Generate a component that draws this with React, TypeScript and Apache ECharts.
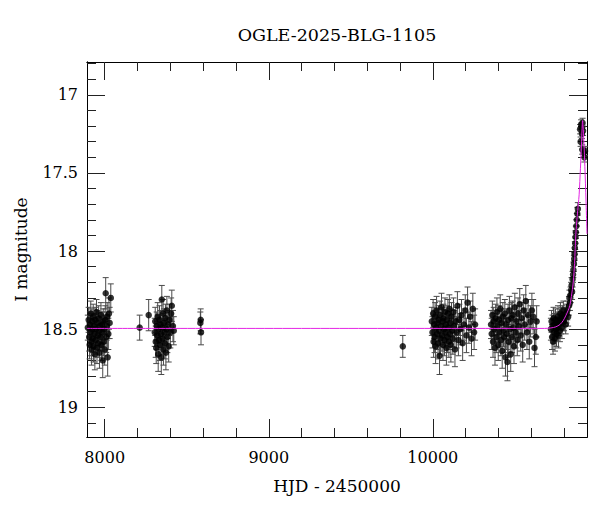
import React, { useEffect, useRef } from 'react';
import * as echarts from 'echarts';

// [HJD-2450000, I mag, error]
const season2017: number[][] = [
  [7897,18.49,0.08],[7902,18.44,0.08],[7905,18.55,0.09],[7908,18.60,0.09],[7910,18.47,0.08],[7913,18.52,0.09],[7915,18.40,0.08],[7918,18.58,0.09],[7920,18.63,0.10],[7922,18.45,0.08],[7925,18.50,0.09],[7927,18.56,0.09],[7930,18.42,0.08],[7932,18.61,0.10],[7935,18.48,0.08],[7937,18.53,0.09],[7940,18.66,0.10],[7942,18.44,0.08],[7945,18.57,0.09],[7948,18.50,0.09],[7950,18.39,0.08],[7953,18.62,0.10],[7955,18.46,0.08],[7958,18.54,0.09],[7960,18.59,0.09],[7963,18.43,0.08],[7966,18.51,0.09],[7968,18.65,0.10],[7971,18.48,0.09],[7974,18.55,0.09],[7977,18.41,0.08],[7980,18.60,0.10],[7983,18.47,0.08],[7986,18.52,0.09],[7988,18.70,0.11],[7991,18.45,0.08],[7994,18.58,0.09],[7997,18.50,0.09],[8000,18.63,0.10],[8003,18.44,0.09],[8006,18.27,0.10],[8009,18.55,0.10],[8012,18.48,0.09],[8015,18.42,0.09],[8018,18.68,0.12],[8022,18.53,0.10],[8026,18.40,0.10],[8030,18.46,0.10],[8037,18.30,0.09],
];
const season2018: number[][] = [
  [8213,18.49,0.08],[8268,18.41,0.10],
  [8305,18.52,0.09],[8308,18.45,0.09],[8311,18.58,0.10],[8314,18.62,0.10],[8317,18.48,0.09],[8320,18.54,0.09],[8323,18.42,0.09],[8326,18.66,0.11],[8329,18.50,0.09],[8331,18.57,0.10],[8334,18.44,0.09],[8337,18.60,0.10],[8340,18.47,0.09],[8342,18.53,0.09],[8345,18.68,0.11],[8348,18.31,0.09],[8350,18.49,0.09],[8353,18.56,0.10],[8356,18.40,0.09],[8358,18.63,0.10],[8361,18.46,0.09],[8364,18.52,0.09],[8367,18.59,0.10],[8370,18.43,0.09],[8373,18.65,0.11],[8376,18.50,0.09],[8379,18.38,0.09],[8382,18.55,0.10],[8386,18.47,0.09],[8390,18.61,0.10],[8395,18.44,0.10],[8400,18.52,0.10],[8405,18.40,0.10],[8409,18.35,0.10],[8416,18.48,0.10],[8421,18.51,0.09],
  [8583,18.46,0.07],[8585,18.44,0.07],[8587,18.52,0.08],
];
const season2022: number[][] = [
  [9817,18.61,0.07],
  [9994,18.45,0.09],[9998,18.52,0.10],[10002,18.40,0.09],[10005,18.58,0.10],[10008,18.47,0.09],[10011,18.55,0.10],[10014,18.42,0.09],[10017,18.61,0.11],[10020,18.49,0.09],[10023,18.38,0.09],[10026,18.53,0.10],[10029,18.46,0.09],[10032,18.59,0.10],[10035,18.44,0.09],[10038,18.51,0.10],[10041,18.67,0.12],[10044,18.41,0.09],[10047,18.56,0.10],[10050,18.48,0.09],[10053,18.36,0.09],[10056,18.54,0.10],[10059,18.45,0.09],[10062,18.60,0.10],[10065,18.43,0.09],[10068,18.50,0.10],[10071,18.57,0.10],[10074,18.39,0.09],[10077,18.52,0.10],[10080,18.47,0.09],[10083,18.62,0.11],[10086,18.44,0.09],[10089,18.55,0.10],[10092,18.40,0.09],[10095,18.49,0.10],[10098,18.58,0.10],[10101,18.37,0.09],[10104,18.53,0.10],[10107,18.46,0.09],[10110,18.60,0.11],[10114,18.42,0.09],[10118,18.51,0.10],[10122,18.56,0.10],[10126,18.39,0.09],[10130,18.48,0.10],[10135,18.63,0.11],[10140,18.45,0.09],[10145,18.52,0.10],[10150,18.35,0.09],[10156,18.57,0.10],[10162,18.44,0.10],[10168,18.50,0.10],[10175,18.41,0.10],[10182,18.59,0.11],[10190,18.47,0.10],[10198,18.38,0.10],[10205,18.54,0.11],[10212,18.33,0.10],[10220,18.49,0.10],[10228,18.42,0.10],[10236,18.56,0.11],[10244,18.37,0.10],[10252,18.52,0.11],[10258,18.47,0.10],
];
const season2024: number[][] = [
  [10355,18.47,0.09],[10359,18.53,0.10],[10363,18.41,0.09],[10367,18.58,0.10],[10371,18.45,0.09],[10375,18.50,0.10],[10379,18.62,0.11],[10383,18.43,0.09],[10387,18.55,0.10],[10391,18.39,0.09],[10395,18.48,0.10],[10399,18.60,0.10],[10403,18.44,0.09],[10407,18.52,0.10],[10411,18.37,0.09],[10415,18.57,0.10],[10419,18.46,0.09],[10423,18.64,0.11],[10427,18.42,0.09],[10431,18.51,0.10],[10435,18.55,0.10],[10439,18.40,0.09],[10443,18.68,0.12],[10447,18.47,0.10],[10451,18.53,0.10],[10455,18.71,0.12],[10459,18.44,0.10],[10463,18.58,0.10],[10467,18.38,0.09],[10471,18.50,0.10],[10475,18.66,0.11],[10479,18.43,0.10],[10483,18.55,0.10],[10487,18.41,0.09],[10491,18.49,0.10],[10495,18.61,0.11],[10500,18.36,0.09],[10505,18.52,0.10],[10510,18.45,0.10],[10515,18.57,0.10],[10520,18.40,0.10],[10525,18.48,0.10],[10530,18.34,0.10],[10536,18.54,0.10],[10542,18.43,0.10],[10548,18.60,0.11],[10554,18.38,0.10],[10560,18.47,0.10],[10567,18.32,0.10],[10574,18.52,0.11],[10581,18.41,0.10],[10588,18.58,0.11],[10596,18.45,0.10],[10604,18.38,0.11],[10612,18.42,0.11],[10620,18.62,0.12],[10628,18.55,0.11],[10633,18.45,0.10],
];
const season2025: number[][] = [
  [10720,18.50,0.07],[10724,18.45,0.07],[10727,18.55,0.08],[10730,18.48,0.07],[10733,18.58,0.08],[10736,18.43,0.07],[10739,18.52,0.07],[10742,18.47,0.07],[10745,18.56,0.08],[10748,18.44,0.07],[10751,18.50,0.07],[10754,18.53,0.08],[10757,18.46,0.07],[10760,18.49,0.07],[10763,18.42,0.07],[10766,18.54,0.08],[10769,18.47,0.07],[10772,18.44,0.07],[10775,18.51,0.07],[10778,18.40,0.07],[10781,18.46,0.07],[10784,18.43,0.07],[10787,18.49,0.07],[10790,18.41,0.06],[10793,18.45,0.06],[10796,18.38,0.06],
  [10800,18.45,0.06],[10805,18.42,0.06],[10810,18.47,0.06],[10815,18.40,0.06],[10820,18.38,0.06],[10825,18.42,0.06],[10830,18.35,0.06],[10833,18.30,0.05],[10836,18.33,0.05],[10840,18.28,0.05],[10843,18.25,0.05],[10846,18.22,0.05],[10849,18.26,0.05],[10852,18.18,0.05],[10855,18.15,0.05],[10857,18.12,0.05],[10860,18.08,0.05],[10862,18.05,0.04],[10864,18.02,0.04],[10866,17.98,0.04],[10868,17.95,0.04],[10870,17.91,0.04],[10872,17.88,0.04],[10875,17.84,0.04],[10878,17.80,0.04],[10881,17.76,0.04],[10884,17.73,0.04],
  [10898,17.22,0.03],[10901,17.30,0.03],[10904,17.19,0.03],[10907,17.21,0.03],[10909,17.25,0.03],[10911,17.35,0.03],[10913,17.18,0.03],[10916,17.23,0.03],[10920,17.37,0.03],[10924,17.40,0.03],[10928,17.36,0.03],
];

// model light curve
const fitHjd = [7892, 10680, 10720, 10750, 10775, 10795, 10810, 10825, 10835, 10845, 10856, 10864, 10872, 10880, 10887, 10892, 10900, 10907, 10911, 10913, 10916, 10921, 10927, 10934, 10940];
const fitMag = [18.495, 18.495, 18.492, 18.485, 18.47, 18.445, 18.415, 18.38, 18.35, 18.29, 18.2, 18.08, 17.89, 17.78, 17.70, 17.64, 17.47, 17.3, 17.19, 17.165, 17.2, 17.3, 17.46, 17.68, 17.89];

const xMajor = [8000, 9000, 10000];
const xMinor = [8200, 8400, 8600, 8800, 9200, 9400, 9600, 9800, 10200, 10400, 10600, 10800];
const yMajor = [17, 17.5, 18, 18.5, 19];
const yMinor = [16.8, 16.9, 17.1, 17.2, 17.3, 17.4, 17.6, 17.7, 17.8, 17.9, 18.1, 18.2, 18.3, 18.4, 18.6, 18.7, 18.8, 18.9, 19.1];

const X_MIN = 7892, X_MAX = 10940;
const Y_MIN = 16.79, Y_MAX = 19.19;

const FONT = '"DejaVu Serif", serif';

export default function App() {
  const ref = useRef<HTMLDivElement>(null);
  useEffect(() => {
    if (!ref.current) return;
    const chart = echarts.init(ref.current, null, { renderer: 'svg' });
    const points = [...season2017, ...season2018, ...season2022, ...season2024, ...season2025];
    const fit = fitHjd.map((h, i) => [h, fitMag[i]]);
    const tickColor = '#222';
    const mkX = (position: string, ticks: number[], len: number, show: boolean, extra: any = {}) => ({
      type: 'value', position, min: X_MIN, max: X_MAX, gridIndex: 0,
      axisLine: { show: true, onZero: false, lineStyle: { color: '#000', width: 1 } },
      axisTick: { show: true, inside: true, length: len, customValues: ticks, lineStyle: { color: tickColor, width: 1 } },
      axisLabel: show
        ? { show: true, customValues: ticks, fontFamily: FONT, fontSize: 16, color: '#000', margin: 12, formatter: (v: number) => String(v) }
        : { show: false },
      splitLine: { show: false },
      ...extra,
    });
    const mkY = (position: string, ticks: number[], len: number, show: boolean, extra: any = {}) => ({
      type: 'value', position, min: Y_MIN, max: Y_MAX, inverse: true, gridIndex: 0,
      axisLine: { show: true, onZero: false, lineStyle: { color: '#000', width: 1 } },
      axisTick: { show: true, inside: true, length: len, customValues: ticks, lineStyle: { color: tickColor, width: 1 } },
      axisLabel: show
        ? { show: true, customValues: ticks, fontFamily: FONT, fontSize: 16, color: '#000', margin: 9, formatter: (v: number) => String(v) }
        : { show: false },
      splitLine: { show: false },
      ...extra,
    });
    chart.setOption({
      animation: false,
      backgroundColor: '#fff',
      grid: { left: 87, right: 13, top: 62, bottom: 75, containLabel: false },
      graphic: [
        {
          type: 'text', x: 337, y: 35,
          style: { text: 'OGLE-2025-BLG-1105', fontFamily: FONT, fontSize: 17.5, fill: '#000', align: 'center', verticalAlign: 'middle', textAlign: 'center', textVerticalAlign: 'middle' },
        },
      ],
      xAxis: [
        mkX('bottom', xMajor, 18, true, {
          name: 'HJD - 2450000', nameLocation: 'middle', nameGap: 40,
          nameTextStyle: { fontFamily: FONT, fontSize: 17, color: '#000' },
        }),
        mkX('bottom', xMinor, 9, false),
        mkX('top', xMajor, 18, false),
        mkX('top', xMinor, 9, false),
      ],
      yAxis: [
        mkY('left', yMajor, 18, true, {
          name: 'I magnitude', nameLocation: 'middle', nameGap: 58, nameRotate: 90,
          nameTextStyle: { fontFamily: FONT, fontSize: 17, color: '#000' },
        }),
        mkY('left', yMinor, 9, false),
        mkY('right', yMajor, 18, false),
        mkY('right', yMinor, 9, false),
      ],
      series: [
        {
          type: 'custom', xAxisIndex: 0, yAxisIndex: 0, data: points, encode: { x: 0, y: 1 }, z: 2,
          renderItem: (_p: any, api: any) => {
            const x = api.value(0), y = api.value(1), e = api.value(2);
            const a = api.coord([x, y - e]);
            const b = api.coord([x, y + e]);
            const cw = 3;
            const st = { stroke: '#4a4a4a', lineWidth: 1 };
            return {
              type: 'group',
              children: [
                { type: 'line', shape: { x1: a[0], y1: a[1], x2: b[0], y2: b[1] }, style: st },
                { type: 'line', shape: { x1: a[0] - cw, y1: a[1], x2: a[0] + cw, y2: a[1] }, style: st },
                { type: 'line', shape: { x1: b[0] - cw, y1: b[1], x2: b[0] + cw, y2: b[1] }, style: st },
              ],
            };
          },
        },
        {
          type: 'scatter', xAxisIndex: 0, yAxisIndex: 0, data: points.map((p) => [p[0], p[1]]),
          symbol: 'circle', symbolSize: 6.5, itemStyle: { color: '#000' }, z: 3,
        },
        {
          type: 'line', xAxisIndex: 0, yAxisIndex: 0, data: fit, showSymbol: false, smooth: 0.3,
          lineStyle: { color: '#e424e4', width: 1 }, z: 4,
        },
      ],
    });
    return () => chart.dispose();
  }, []);
  return <div ref={ref} style={{ position: 'fixed', left: 0, top: 0, width: 600, height: 512 }} />;
}
